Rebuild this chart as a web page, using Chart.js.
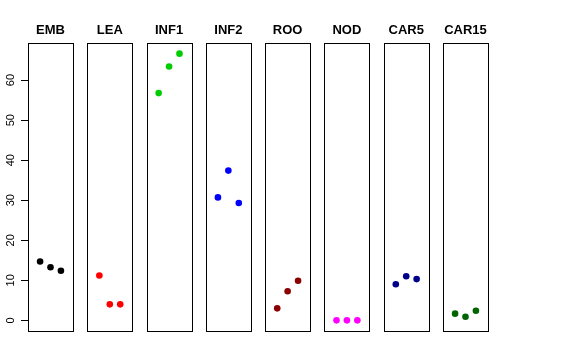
<!DOCTYPE html>
<html>
<head>
<meta charset="utf-8">
<script src="https://cdn.jsdelivr.net/npm/chart.js@4/dist/chart.umd.min.js"></script>
<style>
  body { margin: 0; background: #fff; }
  canvas { display: block; }
</style>
</head>
<body>
<canvas id="stripChart" width="576" height="360"></canvas>
<script>
// Panel names and colours
const panels = ["EMB", "LEA", "INF1", "INF2", "ROO", "NOD", "CAR5", "CAR15"];
const colors = ["#000000", "#FF0000", "#00CD00", "#0000FF", "#8B0000", "#FF00FF", "#00008B", "#006400"];

// Three values per panel
const embValues = [14.7, 13.25, 12.4];
const leaValues = [11.2, 4.0, 4.0];
const inf1Values = [56.75, 63.4, 66.6];
const inf2Values = [30.7, 37.4, 29.3];
const rooValues = [3.0, 7.25, 9.9];
const nodValues = [0, 0, 0];
const car5Values = [9.0, 11.0, 10.3];
const car15Values = [1.67, 0.9, 2.4];
const seriesValues = [embValues, leaValues, inf1Values, inf2Values, rooValues, nodValues, car5Values, car15Values];

// Y tick labels
const yTicks = [0, 10, 20, 30, 40, 50, 60];

// each panel spans x = -0.16 .. 4.16, panels repeat every PERIOD units
const PERIOD = 5.69;
const PANEL_MIN = -0.16;
const PANEL_MAX = 4.16;

const datasets = seriesValues.map((vals, i) => ({
  label: panels[i],
  data: vals.map((v, j) => ({ x: i * PERIOD + j + 1, y: v })),
  backgroundColor: colors[i],
  borderColor: colors[i],
  pointRadius: 3.3,
  pointBorderWidth: 0,
  showLine: false,
}));

// Draw a box round each panel
const panelBoxes = {
  id: "panelBoxes",
  afterDatasetsDraw(chart) {
    const { ctx, chartArea, scales } = chart;
    ctx.save();
    ctx.strokeStyle = "#000";
    ctx.lineWidth = 1;
    panels.forEach((p, i) => {
      const x1 = Math.round(scales.x.getPixelForValue(i * PERIOD + PANEL_MIN)) + 0.5;
      const x2 = Math.round(scales.x.getPixelForValue(i * PERIOD + PANEL_MAX)) + 0.5;
      ctx.strokeRect(x1, Math.round(chartArea.top) + 0.5, x2 - x1, Math.round(chartArea.bottom - chartArea.top));
    });
    ctx.restore();
  },
};

new Chart(document.getElementById("stripChart").getContext("2d"), {
  type: "scatter",
  data: { datasets },
  options: {
    responsive: false,
    animation: false,
    layout: { padding: { left: 0, right: 88, top: 0, bottom: 29 } },
    plugins: { legend: { display: false }, tooltip: { enabled: false } },
    scales: {
      x: {
        type: "linear",
        position: "top",
        min: PANEL_MIN,
        max: 7 * PERIOD + PANEL_MAX,
        afterBuildTicks: (scale) => {
          scale.ticks = panels.map((p, i) => ({ value: i * PERIOD + 2 }));
        },
        afterFit: (scale) => { scale.height = 43; },
        grid: { display: false },
        border: { display: false },
        ticks: {
          autoSkip: false,
          maxRotation: 0,
          padding: -3,
          color: "#000",
          font: { family: "Liberation Sans, Arial, sans-serif", size: 13, weight: "bold" },
          callback: (v, idx) => panels[idx],
        },
      },
      y: {
        min: -2.66,
        max: 69.26,
        afterBuildTicks: (scale) => {
          scale.ticks = yTicks.map((v) => ({ value: v }));
        },
        afterFit: (scale) => { scale.width = 28; },
        grid: { drawOnChartArea: false, drawTicks: true, tickLength: 7, color: "#000" },
        border: { display: false },
        ticks: {
          minRotation: 90,
          maxRotation: 90,
          crossAlign: "center",
          padding: 4,
          color: "#000",
          font: { family: "Liberation Sans, Arial, sans-serif", size: 11 },
        },
      },
    },
  },
  plugins: [panelBoxes],
});
</script>
</body>
</html>
